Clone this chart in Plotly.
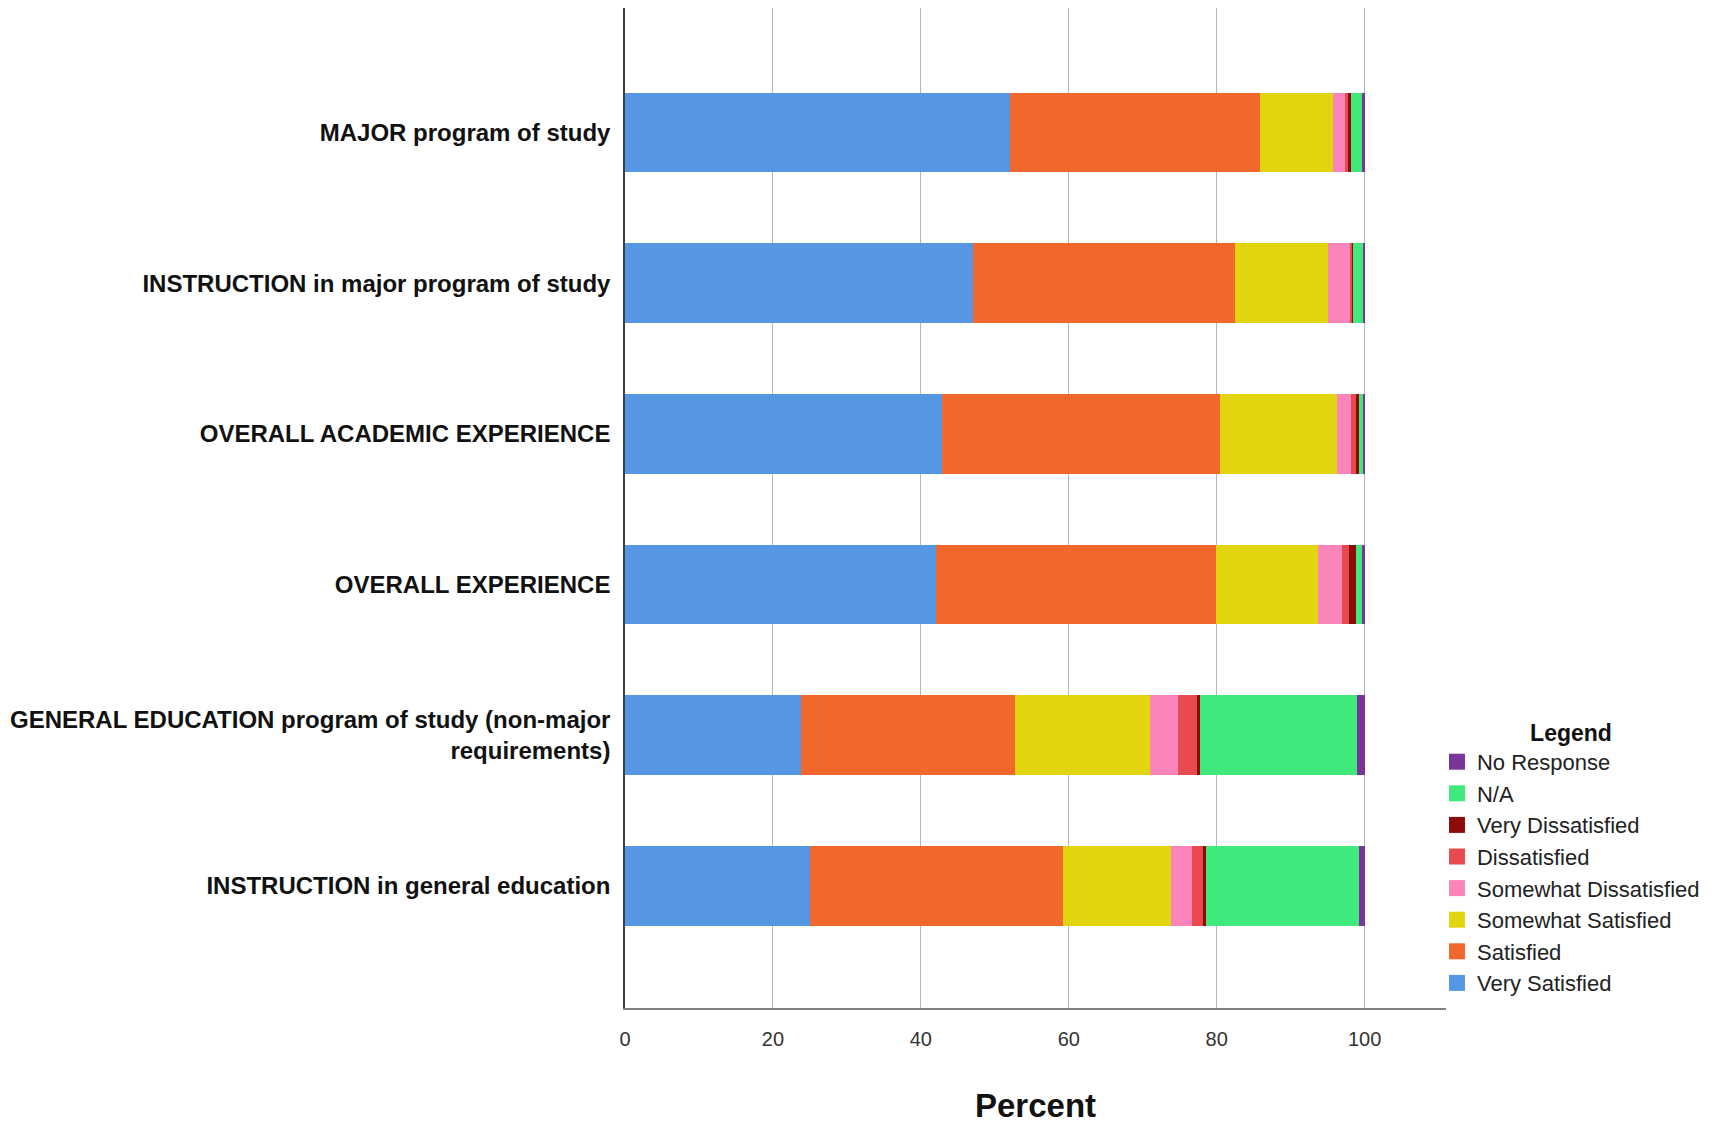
import plotly.graph_objects as go

categories = [
    "MAJOR program of study",
    "INSTRUCTION in major program of study",
    "OVERALL ACADEMIC EXPERIENCE",
    "OVERALL EXPERIENCE",
    "GENERAL EDUCATION program of study (non-major<br>requirements)",
    "INSTRUCTION in general education",
]

very_satisfied = [52.0, 47.1, 42.8, 42.0, 23.8, 25.0]
satisfied = [33.9, 35.4, 37.6, 37.9, 28.9, 34.2]
somewhat_satisfied = [9.8, 12.5, 15.9, 13.8, 18.3, 14.6]
somewhat_dissatisfied = [1.7, 3.1, 1.8, 3.2, 3.7, 2.9]
dissatisfied = [0.3, 0.2, 0.7, 1.0, 2.6, 1.4]
very_dissatisfied = [0.4, 0.1, 0.5, 0.9, 0.5, 0.4]
not_applicable = [1.5, 1.5, 0.5, 0.8, 21.2, 20.8]
no_response = [0.4, 0.1, 0.2, 0.4, 1.0, 0.7]

series = [
    ("Very Satisfied", very_satisfied, "#5597e2"),
    ("Satisfied", satisfied, "#f2672c"),
    ("Somewhat Satisfied", somewhat_satisfied, "#e2d50f"),
    ("Somewhat Dissatisfied", somewhat_dissatisfied, "#fb84bb"),
    ("Dissatisfied", dissatisfied, "#e94a4f"),
    ("Very Dissatisfied", very_dissatisfied, "#8e0b0b"),
    ("N/A", not_applicable, "#40e97c"),
    ("No Response", no_response, "#7a3598"),
]

fig = go.Figure()
for name, vals, color in series:
    fig.add_trace(go.Bar(
        y=categories, x=vals, name=name, orientation="h",
        marker=dict(color=color, line=dict(width=0)),
        width=0.53, legendgroup=name, showlegend=False,
    ))
    # legend entry with a larger square swatch
    fig.add_trace(go.Scatter(
        x=[None], y=[None], mode="markers", name=name, legendgroup=name,
        marker=dict(symbol="square", size=20, color=color),
        showlegend=True, hoverinfo="skip",
    ))

fig.update_layout(
    barmode="stack",
    width=1731, height=1123,
    paper_bgcolor="white", plot_bgcolor="white",
    margin=dict(l=617, r=293, t=0, b=123, autoexpand=False),
    font=dict(family="Liberation Sans, Arial, sans-serif", color="#111"),
    legend=dict(
        title=dict(text="<b>Legend</b>", side="top center",
                   font=dict(family="Liberation Sans, Arial, sans-serif", size=23, color="#111")),
        traceorder="reversed",
        x=0.989, xanchor="left", y=0.297, yanchor="top",
        font=dict(family="Liberation Sans, Arial, sans-serif", size=22, color="#222"),
        itemwidth=30, tracegroupgap=0,
        bgcolor="rgba(0,0,0,0)",
    ),
    xaxis=dict(
        range=[0, 111], tickvals=[0, 20, 40, 60, 80, 100],
        showgrid=True, gridcolor="#b5b5b5", gridwidth=1,
        zeroline=False, showline=True, linecolor="#808080", linewidth=1.5,
        ticks="", tickfont=dict(size=20, color="#333"), ticklabelstandoff=12,
        title=dict(text="<b>Percent</b>", font=dict(size=33, color="#111"), standoff=45),
    ),
    yaxis=dict(
        range=[5.81, -0.826], showgrid=False, zeroline=False,
        showline=True, linecolor="#404040", linewidth=1.5,
        ticks="", ticklabelstandoff=8,
        tickfont=dict(size=24, color="#111", family="Liberation Sans, Arial, sans-serif", weight="bold"),
    ),
)

fig.write_html("out.html")
